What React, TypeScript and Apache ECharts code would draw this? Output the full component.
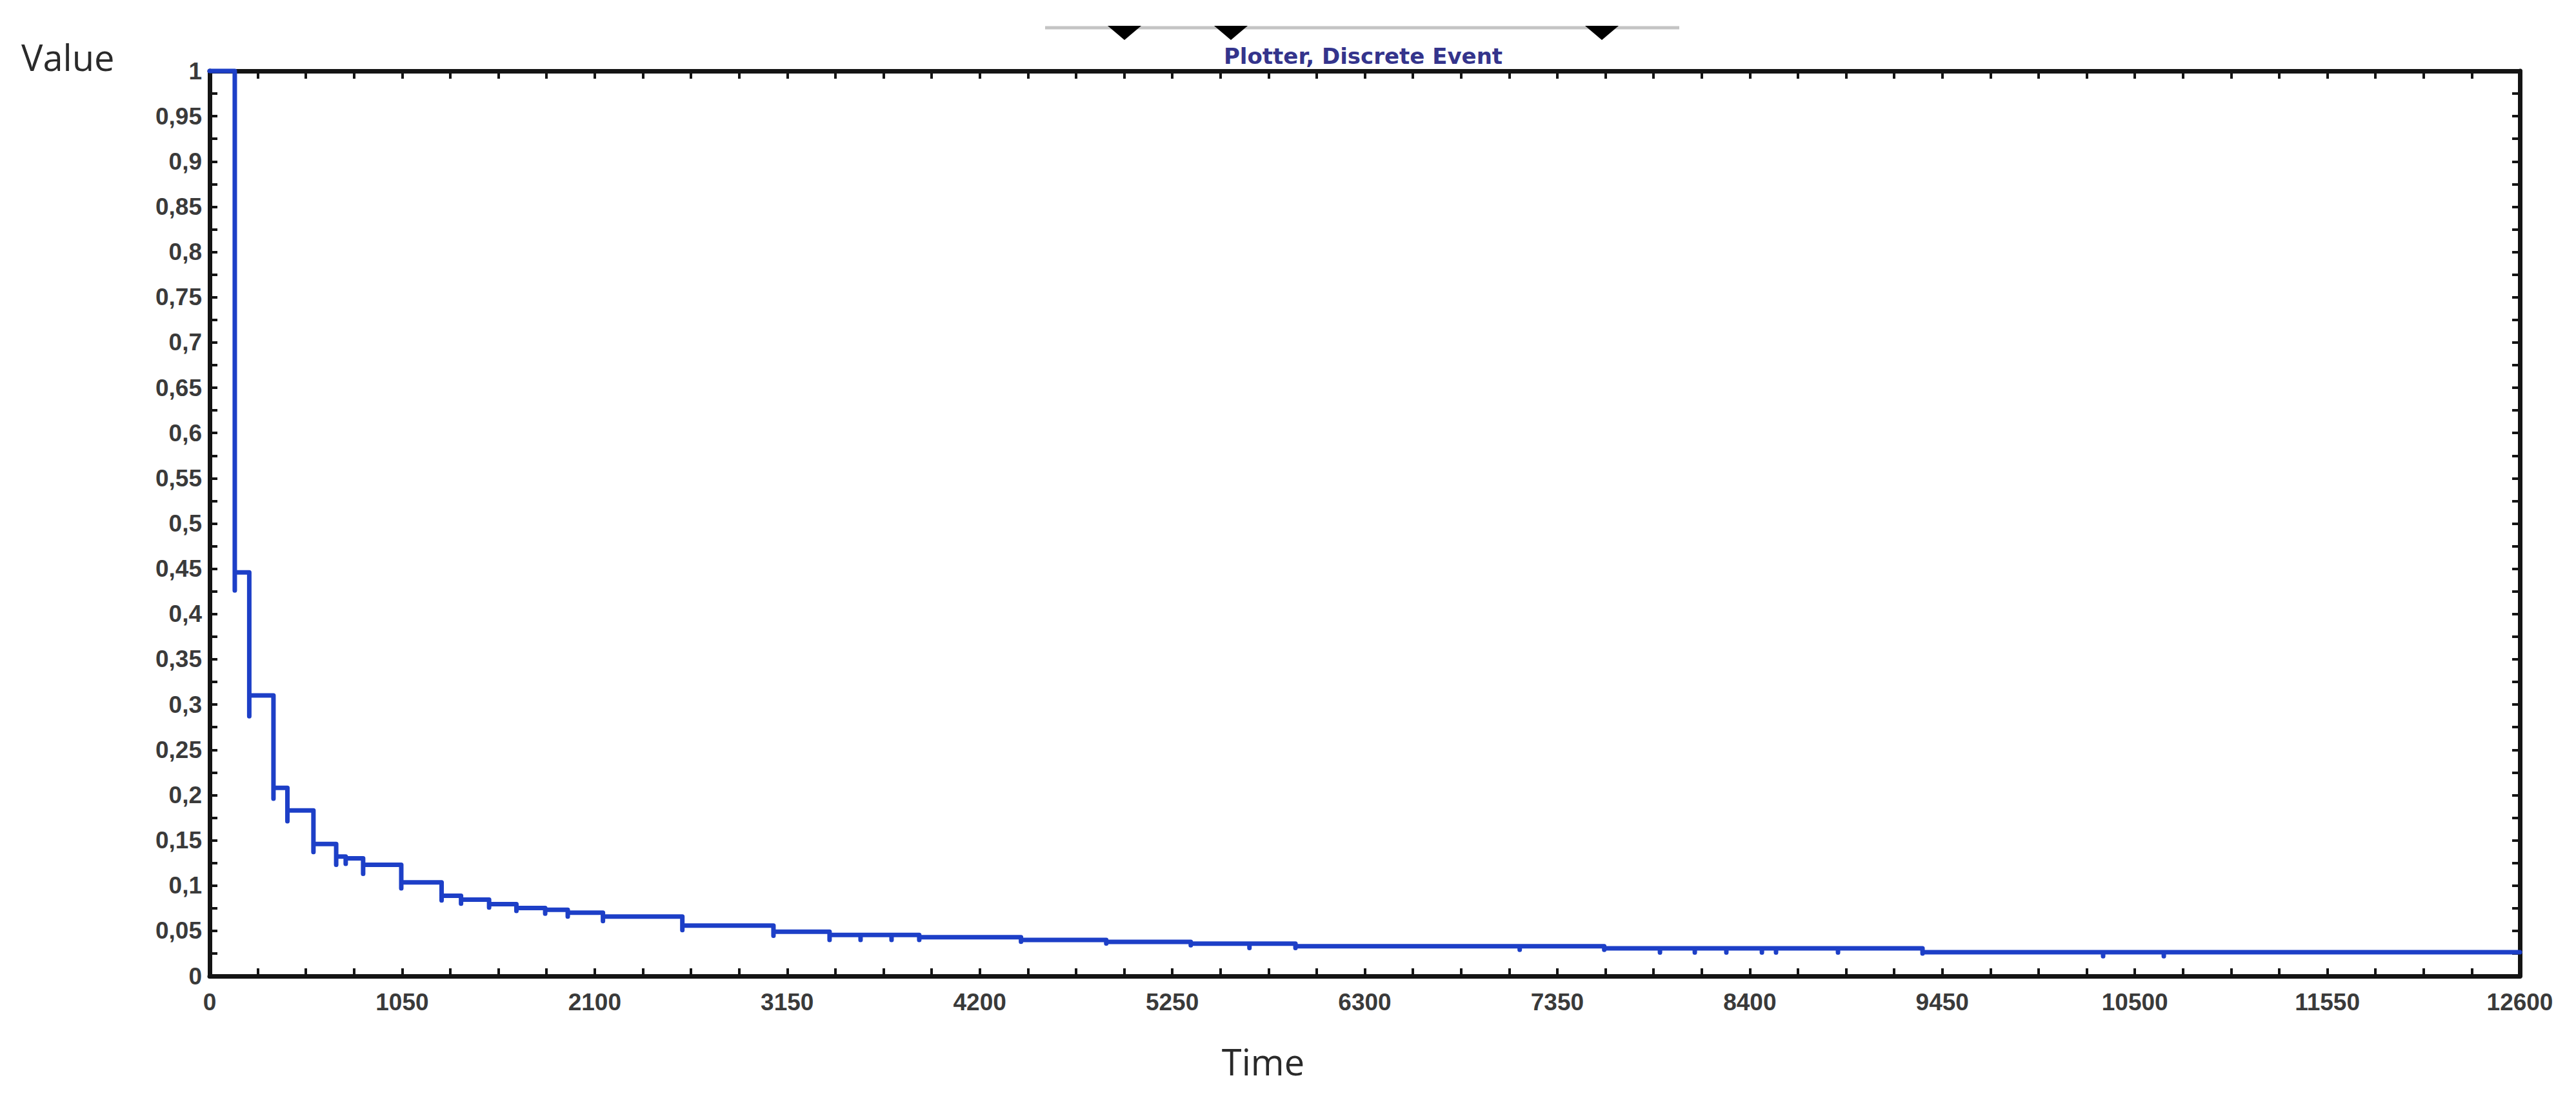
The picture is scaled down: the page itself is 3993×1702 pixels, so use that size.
import React, { useEffect, useRef } from "react";
import * as echarts from "echarts";

// Discrete-event step series: event times, the short dip drawn at each event, and the new level
const eventTimes = [137, 216, 348, 424, 566, 690, 742, 837, 1045, 1265, 1371, 1524, 1673, 1830, 1953, 2145, 2578, 3075, 3381, 3550, 3719, 3870, 4425, 4890, 5351, 5671, 5922, 7145, 7606, 7910, 8100, 8272, 8466, 8543, 8881, 9342, 10327, 10658];
const dipValues = [0.426, 0.287, 0.196, 0.171, 0.137, 0.123, 0.124, 0.113, 0.097, 0.0835, 0.08, 0.0757, 0.072, 0.069, 0.0657, 0.0607, 0.0507, 0.0445, 0.04, 0.04, 0.04, 0.04, 0.038, 0.036, 0.034, 0.031, 0.031, 0.029, 0.029, 0.026, 0.026, 0.026, 0.026, 0.026, 0.026, 0.025, 0.022, 0.022];
const levelValues = [0.446, 0.31, 0.208, 0.183, 0.146, 0.132, 0.13, 0.123, 0.1035, 0.0888, 0.0845, 0.0795, 0.0752, 0.0732, 0.07, 0.0657, 0.0557, 0.049, 0.0455, 0.0455, 0.0455, 0.043, 0.04, 0.0378, 0.0359, 0.0359, 0.033, 0.033, 0.0307, 0.0307, 0.0307, 0.0307, 0.0307, 0.0307, 0.0307, 0.0264, 0.0264, 0.0264];
const startValue = 1;
const endTime = 12600;

const xMin = 0;
const xMax = 12600;
const xInterval = 1050;
const yMin = 0;
const yMax = 1;
const yInterval = 0.05;

const titleText = "Plotter, Discrete Event";
const yAxisName = "Value";
const xAxisName = "Time";
const markerCenters = [1743, 1908, 2483];

export default function App() {
  const ref = useRef<HTMLDivElement>(null);

  useEffect(() => {
    if (!ref.current) return;
    const chart = echarts.init(ref.current, undefined, { renderer: "svg" });

    const data: [number, number][] = [[0, startValue]];
    let prev = startValue;
    eventTimes.forEach((t, i) => {
      data.push([t, prev]);
      data.push([t, dipValues[i]]);
      data.push([t, levelValues[i]]);
      prev = levelValues[i];
    });
    data.push([endTime, prev]);

    const axisColor = "#141414";
    const tickCommon = {
      axisLine: { show: true, onZero: false, lineStyle: { color: axisColor, width: 7 } },
      axisTick: { show: true, inside: true, length: 12, lineStyle: { color: axisColor, width: 4 } },
      splitLine: { show: false },
    };
    const labelStyle = {
      fontFamily: "Liberation Sans",
      fontWeight: "bold" as const,
      fontSize: 37,
      color: "#3a3a3a",
    };

    const triangles = markerCenters.map((cx) => ({
      type: "polygon",
      shape: { points: [[cx - 26, 40], [cx + 26, 40], [cx, 62]] },
      style: { fill: "#000" },
      z: 10,
    }));

    chart.setOption({
      animation: false,
      backgroundColor: "#ffffff",
      grid: { left: 325, right: 87, top: 110, bottom: 189, containLabel: false },
      xAxis: [
        {
          type: "value",
          position: "bottom",
          min: xMin,
          max: xMax,
          interval: xInterval,
          ...tickCommon,
          minorTick: { show: true, splitNumber: 4, length: 12, lineStyle: { color: axisColor, width: 4 } },
          axisLabel: {
            ...labelStyle,
            margin: 22,
            showMinLabel: true,
            showMaxLabel: true,
            formatter: (v: number) => String(Math.round(v)),
          },
        },
        {
          type: "value",
          position: "top",
          min: xMin,
          max: xMax,
          interval: xInterval,
          ...tickCommon,
          minorTick: { show: true, splitNumber: 4, length: 12, lineStyle: { color: axisColor, width: 4 } },
          axisLabel: { show: false },
        },
      ],
      yAxis: [
        {
          type: "value",
          position: "left",
          min: yMin,
          max: yMax,
          interval: yInterval,
          ...tickCommon,
          minorTick: { show: true, splitNumber: 2, length: 12, lineStyle: { color: axisColor, width: 4 } },
          axisLabel: {
            ...labelStyle,
            margin: 12,
            showMinLabel: true,
            showMaxLabel: true,
            formatter: (v: number) => String(Number(v.toFixed(2))).replace(".", ","),
          },
        },
        {
          type: "value",
          position: "right",
          min: yMin,
          max: yMax,
          interval: yInterval,
          ...tickCommon,
          minorTick: { show: true, splitNumber: 2, length: 12, lineStyle: { color: axisColor, width: 4 } },
          axisLabel: { show: false },
        },
      ],
      series: [
        {
          type: "line",
          xAxisIndex: 0,
          yAxisIndex: 0,
          data,
          showSymbol: false,
          symbol: "none",
          clip: false,
          lineStyle: { color: "#1d3fc7", width: 7, cap: "round", join: "round" },
          z: 3,
        },
      ],
      graphic: [
        {
          type: "line",
          shape: { x1: 1620, y1: 43, x2: 2603, y2: 43 },
          style: { stroke: "#c4c4c4", lineWidth: 5 },
          z: 5,
        },
        ...triangles,
        {
          type: "text",
          x: 2113,
          y: 87,
          style: {
            text: titleText,
            fontFamily: "DejaVu Sans",
            fontWeight: "bold",
            fontSize: 34,
            fill: "#34348c",
            align: "center",
            verticalAlign: "middle",
          },
        },
        {
          type: "text",
          x: 33,
          y: 88,
          style: {
            text: yAxisName,
            fontFamily: "Open Sans",
            fontSize: 56,
            fill: "#2a2a2a",
            align: "left",
            verticalAlign: "middle",
          },
        },
        {
          type: "text",
          x: 1958,
          y: 1645,
          style: {
            text: xAxisName,
            fontFamily: "Open Sans",
            fontSize: 56,
            fill: "#2a2a2a",
            align: "center",
            verticalAlign: "middle",
          },
        },
      ],
    });

    return () => chart.dispose();
  }, []);

  return (
    <div
      ref={ref}
      style={{ position: "absolute", left: 0, top: 0, width: 3993, height: 1702, background: "#fff" }}
    />
  );
}
